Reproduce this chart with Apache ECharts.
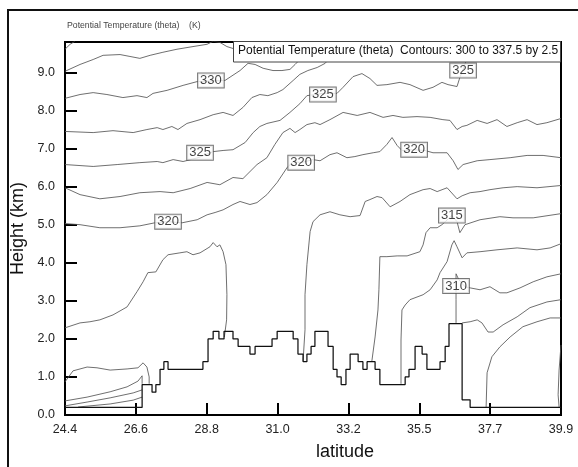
<!DOCTYPE html>
<html><head><meta charset="utf-8">
<script src="https://cdn.jsdelivr.net/npm/echarts@6/dist/echarts.min.js"></script>
<style>html,body{margin:0;padding:0;background:#fff}#c{width:578px;height:467px}</style>
</head><body><div id="c"></div>
<script>
// ---------- data (latitude in degrees, height in km) ----------
const xTickLabels = ["24.4","26.6","28.8","31.0","33.2","35.5","37.7","39.9"];
const yTickValues = [0,1,2,3,4,5,6,7,8,9];
const xMin = 24.4, xMax = 39.9, yMin = 0, yMax = 9.8;

// terrain: [start latitude of step, height]
const terrain = [[24.40,0.2],[26.81,0.8],[27.12,0.6],[27.24,0.8],[27.37,1.2],[27.49,1.4],[27.62,1.2],[28.71,1.4],[28.87,2.0],[29.03,2.2],[29.21,2.0],[29.37,2.2],[29.65,2.0],[29.81,1.8],[30.18,1.6],[30.34,1.8],[30.87,2.0],[31.03,2.2],[31.53,2.0],[31.68,1.6],[31.84,1.4],[31.96,1.6],[32.09,1.8],[32.21,2.2],[32.62,1.8],[32.78,1.2],[32.90,1.0],[33.03,0.8],[33.18,1.2],[33.31,1.6],[33.56,1.4],[33.71,1.2],[33.84,1.4],[34.09,1.2],[34.24,0.8],[35.03,1.0],[35.15,1.2],[35.34,1.8],[35.56,1.6],[35.71,1.2],[36.12,1.4],[36.28,1.8],[36.40,2.4],[36.81,0.4],[37.06,0.2],[39.90,0.2]];

const contA = [[24.40,9.61],[24.56,9.74],[24.71,9.82]];
const contB = [[24.40,9.03],[24.87,9.21],[25.28,9.34],[25.59,9.45],[26.12,9.47],[26.43,9.42],[26.74,9.37],[27.06,9.45],[27.46,9.53],[27.90,9.61],[28.40,9.68],[28.84,9.74],[29.03,9.82],[29.24,9.79],[29.46,9.68],[29.65,9.63],[30.03,9.55]];
const contC = [[24.40,8.32],[24.87,8.42],[25.28,8.47],[25.71,8.42],[26.21,8.34],[26.65,8.39],[26.96,8.34],[27.15,8.45],[27.59,8.53],[28.09,8.66],[28.53,8.76],[29.40,8.79],[29.87,9.05],[30.12,9.24],[30.34,9.21],[30.59,9.11],[30.90,9.05],[31.18,9.05],[31.43,9.08],[31.59,9.21],[31.74,9.34],[31.90,9.55]];
const contD = [[24.40,7.45],[25.28,7.42],[25.90,7.47],[26.53,7.42],[26.96,7.50],[27.28,7.55],[27.46,7.50],[27.74,7.58],[27.93,7.50],[28.21,7.66],[28.62,7.76],[29.03,7.89],[29.34,7.95],[29.65,7.87],[29.96,8.08],[30.24,8.34],[30.49,8.42],[30.74,8.39],[31.03,8.47],[31.21,8.55],[31.53,8.79],[31.74,8.95],[31.99,9.05],[32.28,9.13],[32.53,9.24],[32.74,9.45]];
const contE = [[24.40,6.58],[25.28,6.53],[26.03,6.58],[26.74,6.63],[27.28,6.66],[27.46,6.63],[27.78,6.71],[28.09,6.66],[28.56,6.76],[29.03,6.92],[29.34,6.95],[29.65,6.97],[30.03,7.16],[30.28,7.42],[30.49,7.58],[30.71,7.66],[31.12,7.74],[31.43,7.95],[31.74,8.18],[31.96,8.39],[32.46,8.45],[32.90,8.45],[33.09,8.61],[33.40,8.89],[33.68,8.97],[33.93,8.84],[34.15,8.66],[34.46,8.68],[34.87,8.74],[35.18,8.68],[35.59,8.53],[35.90,8.61],[36.18,8.74],[36.37,8.68],[36.65,8.63],[36.74,8.87],[36.84,9.08],[36.93,9.29],[36.99,9.55]];
const contF = [[24.40,5.97],[24.87,5.79],[25.49,5.68],[26.12,5.74],[26.74,5.84],[27.37,5.87],[27.78,5.84],[28.31,5.95],[28.84,6.11],[29.24,6.05],[29.65,6.24],[29.96,6.21],[30.40,6.58],[30.71,6.76],[30.96,7.11],[31.21,7.42],[31.43,7.53],[31.59,7.42],[31.74,7.50],[31.96,7.63],[32.21,7.68],[32.37,7.63],[32.68,7.76],[33.09,7.95],[33.53,7.87],[33.93,7.95],[34.34,7.82],[34.65,7.87],[34.96,7.82],[35.40,7.84],[35.81,7.82],[36.21,7.76],[36.43,7.74],[36.65,7.50],[36.81,7.58],[36.96,7.61],[37.28,7.74],[37.59,7.66],[37.90,7.76],[38.21,7.58],[38.53,7.68],[38.84,7.76],[39.15,7.63],[39.46,7.68],[39.90,7.79]];
const contG = [[24.40,5.03],[24.87,5.00],[25.49,4.92],[26.12,4.92],[26.74,4.97],[27.21,5.05],[27.62,5.08],[28.06,5.05],[28.53,5.13],[28.84,5.26],[29.09,5.32],[29.34,5.39],[29.65,5.53],[29.87,5.61],[30.18,5.53],[30.40,5.58],[30.71,5.79],[31.03,6.11],[31.34,6.50],[31.53,6.66],[31.78,6.63],[32.15,6.71],[32.37,6.68],[32.68,6.84],[32.90,6.89],[33.21,6.76],[33.46,6.79],[33.71,6.84],[34.03,6.89],[34.24,6.92],[34.46,7.11],[34.62,7.29],[34.78,7.08],[34.93,6.95],[35.31,6.97],[35.65,6.95],[35.90,6.89],[36.34,6.89],[36.53,6.68],[36.68,6.45],[36.84,6.58],[37.28,6.68],[37.68,6.71],[38.31,6.76],[38.84,6.82],[39.34,6.82],[39.90,6.76]];
const contH = [[24.40,2.29],[24.87,2.42],[25.18,2.45],[25.49,2.50],[25.90,2.63],[26.34,2.84],[26.65,3.24],[26.84,3.50],[26.99,3.74],[27.24,3.76],[27.46,4.08],[27.62,4.21],[27.99,4.26],[28.21,4.29],[28.40,4.21],[28.62,4.26],[28.93,4.42],[29.03,4.53],[29.15,4.42],[29.24,4.47],[29.34,4.29],[29.43,3.95],[29.46,3.16],[29.45,2.50],[29.38,2.05]];
const contI = [[31.84,1.42],[31.90,2.24],[31.90,3.16],[31.96,3.95],[32.06,4.82],[32.15,5.08],[32.37,5.26],[32.68,5.34],[32.99,5.26],[33.31,5.21],[33.62,5.24],[33.78,5.61],[33.93,5.66],[34.15,5.74],[34.31,5.71],[34.56,5.47],[34.87,5.61],[35.18,5.79],[35.59,5.92],[35.81,5.95],[36.03,5.87],[36.34,5.97],[36.65,5.68],[36.81,5.76],[37.06,5.84],[37.37,5.87],[37.68,5.92],[38.09,5.97],[38.53,6.00],[39.15,5.97],[39.90,6.03]];
const contJ = [[33.99,1.42],[34.09,2.05],[34.18,2.76],[34.21,3.29],[34.24,4.16],[34.46,4.16],[34.78,4.18],[35.09,4.18],[35.49,4.29],[35.59,4.47],[35.68,4.79],[35.81,4.92],[36.03,4.92],[36.18,5.00],[36.49,5.24],[36.65,5.08],[36.74,4.79],[36.90,5.00],[37.37,5.13],[37.99,5.21],[38.40,5.18],[39.03,5.18],[39.90,5.29]];
const contK = [[34.90,0.82],[34.90,1.97],[34.93,2.76],[35.03,2.89],[35.18,3.03],[35.59,3.16],[35.81,3.29],[36.03,3.55],[36.12,3.74],[36.34,4.03],[36.49,4.47],[36.56,4.58],[36.65,4.42],[36.81,4.13],[36.96,4.26],[37.37,4.29],[37.90,4.34],[38.53,4.39],[39.15,4.34],[39.56,4.39],[39.90,4.50]];
const contL = [[36.62,2.42],[36.62,3.03],[36.62,3.71],[36.71,3.55],[36.90,3.37],[37.06,3.34],[37.37,3.29],[37.68,3.37],[37.99,3.21],[38.21,3.21],[38.62,3.34],[39.03,3.50],[39.46,3.63],[39.90,3.71]];
const contM = [[36.81,2.42],[37.06,2.45],[37.28,2.50],[37.43,2.42],[37.62,2.18],[37.78,2.18],[38.09,2.37],[38.53,2.58],[38.93,2.82],[39.46,2.97],[39.90,3.03]];
const contN = [[37.56,0.21],[37.59,1.11],[37.74,1.53],[37.99,1.79],[38.31,2.05],[38.71,2.32],[39.15,2.45],[39.56,2.55],[39.90,2.55]];
const contO = [[39.90,1.84],[39.84,1.18],[39.81,0.53],[39.84,0.21]];
const contP = [[24.40,0.87],[24.65,1.16],[25.09,1.26],[25.40,1.24],[25.81,1.18],[26.34,1.21],[26.68,1.24],[26.84,1.37],[26.96,1.26],[27.03,1.00],[27.03,0.82]];
const contQ = [[24.40,0.37],[25.09,0.47],[25.81,0.61],[26.34,0.74],[26.68,0.89],[26.81,1.03],[26.81,0.82]];
const contR = [[24.40,0.24],[25.09,0.34],[25.81,0.45],[26.53,0.58],[26.81,0.66]];
const contS = [[24.81,0.21],[25.81,0.29],[26.53,0.39],[26.81,0.47]];

// contour labels: [latitude, height, text]
const contourLabels = [[28.96,8.79,"330"],[36.84,9.05,"325"],[32.46,8.42,"325"],[28.62,6.89,"325"],[31.78,6.63,"320"],[35.31,6.97,"320"],[27.62,5.08,"320"],[36.49,5.24,"315"],[36.62,3.39,"310"]];

// ---------- chart ----------
const FONT = '"Liberation Sans", Arial, Helvetica, sans-serif';
const contours = [contA,contB,contC,contD,contE,contF,contG,contH,contI,contJ,contK,contL,contM,contN,contO,contP,contQ,contR,contS];
const xStep = (xMax - xMin) / (xTickLabels.length - 1);
const xTickValues = xTickLabels.map((_, i) => xMin + i * xStep);

const series = contours.map(d => ({
  type: 'line', data: d, showSymbol: false, symbol: 'none', z: 2,
  lineStyle: { color: '#555', width: 0.85 }, silent: true, animation: false
}));
series.push({
  type: 'line', data: terrain, step: 'end', showSymbol: false, symbol: 'none', z: 3,
  lineStyle: { color: '#111', width: 1.25 }, silent: true, animation: false
});
series.push({
  type: 'scatter', data: contourLabels, symbol: 'rect', symbolSize: 0, z: 5,
  itemStyle: { color: 'rgba(0,0,0,0)' },
  animation: false, silent: true,
  label: { show: true, position: 'inside', formatter: p => p.data[2], fontFamily: FONT,
    fontSize: 13, color: '#111', backgroundColor: '#fff', borderColor: '#555', borderWidth: 1,
    padding: [1, 2, 0, 2] }
});

const chart = echarts.init(document.getElementById('c'), null, { renderer: 'canvas' });
chart.setOption({
  animation: false,
  backgroundColor: '#fff',
  grid: { left: 65, right: 17, top: 42, bottom: 52, show: true, borderColor: '#000', borderWidth: 2, backgroundColor: 'transparent' },
  xAxis: {
    type: 'value', min: xMin, max: xMax,
    axisLine: { lineStyle: { color: '#000', width: 2 } },
    axisTick: { inside: true, length: 12, customValues: xTickValues, lineStyle: { color: '#000', width: 2 } },
    axisLabel: { customValues: xTickValues, margin: 8, fontFamily: FONT, fontSize: 12.5, color: '#222',
      formatter: v => xTickLabels[Math.round((v - xMin) / xStep)] },
    splitLine: { show: false }
  },
  yAxis: {
    type: 'value', min: yMin, max: yMax,
    name: 'Height (km)', nameLocation: 'middle', nameGap: 24,
    nameTextStyle: { fontFamily: FONT, fontSize: 18, color: '#111' },
    axisLine: { lineStyle: { color: '#000', width: 2 } },
    axisTick: { inside: true, length: 12, customValues: yTickValues, lineStyle: { color: '#000', width: 2 } },
    axisLabel: { customValues: yTickValues, margin: 10, fontFamily: FONT, fontSize: 12.5, color: '#222',
      formatter: v => v.toFixed(1) },
    splitLine: { show: false }
  },
  graphic: [
    { type: 'rect', z: 0, silent: true, shape: { x: 8, y: 10, width: 590, height: 480 },
      style: { fill: null, stroke: '#111', lineWidth: 2 } },
    { type: 'text', z: 20, silent: true, x: 67, y: 21,
      style: { text: 'Potential Temperature (theta)', font: '8.7px ' + FONT, fill: '#444' } },
    { type: 'text', z: 20, silent: true, x: 189, y: 21,
      style: { text: '(K)', font: '8.7px ' + FONT, fill: '#444' } },
    { type: 'text', z: 20, silent: true, x: 345, y: 452,
      style: { text: 'latitude', font: '18px ' + FONT, fill: '#111', align: 'center', verticalAlign: 'middle' } },
    { type: 'rect', z: 20, silent: true, shape: { x: 233.5, y: 41.5, width: 327, height: 20.5 },
      style: { fill: '#fff', stroke: '#444', lineWidth: 1 } },
    { type: 'text', z: 21, silent: true, x: 238, y: 45,
      style: { text: 'Potential Temperature (theta)  Contours: 300 to 337.5 by 2.5', font: '12px ' + FONT, fill: '#111' } }
  ],
  series: series
});
</script></body></html>
